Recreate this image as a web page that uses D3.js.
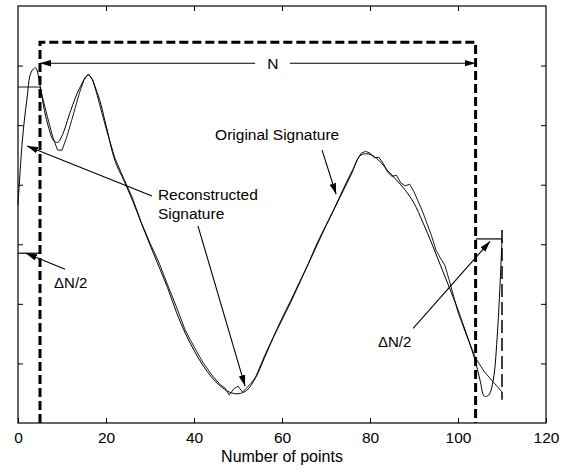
<!DOCTYPE html>
<html><head><meta charset="utf-8">
<script src="https://cdn.jsdelivr.net/npm/d3@7"></script>
<style>body{margin:0;background:#fff}svg{display:block}text{font-family:"Liberation Sans",Arial,sans-serif;fill:#000}</style>
</head><body><svg id="c" width="577" height="472"></svg>
<script>
// ---- data ----
const xTicks = [0,20,40,60,80,100,120];
const yTicks = [0,1,2,3,4,5,6,7];
const reconX = [0,1,2,3,4,5,6,7,8,9,10,12,14,16,18,20,22,24,26,28,30,32,34,36,38,40,42,44,46,48,50,52,54,56,58,60,62,64,66,68,70,72,74,76,78,80,82,84,86,88,90,92,94,96,98,100,101,102,103,104,105,106,107,108,109,110];
const reconY = [3.66,4.75,5.42,5.89,5.96,5.67,5.25,4.95,4.75,4.71,4.82,5.25,5.62,5.84,5.55,5.00,4.41,4.08,3.74,3.36,2.99,2.63,2.27,1.86,1.51,1.22,0.97,0.77,0.62,0.52,0.49,0.55,0.76,1.09,1.43,1.73,2.03,2.35,2.68,3.02,3.32,3.62,3.94,4.24,4.50,4.51,4.41,4.24,4.08,3.91,3.69,3.37,3.02,2.65,2.28,1.90,1.69,1.48,1.26,1.02,0.72,0.45,0.47,0.72,1.56,3.07];
const origX = [0,5,6,7,8,9,10,11,12,13,14,15,16,17,18,20,22,24,26,28,30,32,34,36,38,40,42,44,46,47,48,49,50,51,52,53,54,56,58,60,62,64,66,68,70,72,74,76,77,78,79,80,81,82,83,84,85,86,87,88,89,90,92,94,95,96,97,98,99,100,102,104,106,108,110];
const origY = [5.64,5.64,5.34,5.05,4.78,4.58,4.58,4.78,5.03,5.29,5.55,5.76,5.86,5.76,5.50,4.95,4.45,4.11,3.78,3.37,3.02,2.70,2.32,1.95,1.56,1.28,1.02,0.81,0.64,0.59,0.47,0.57,0.62,0.52,0.59,0.67,0.77,1.12,1.44,1.76,2.06,2.37,2.67,2.99,3.31,3.61,3.91,4.21,4.41,4.53,4.56,4.53,4.45,4.46,4.36,4.21,4.14,4.16,4.03,3.98,4.01,3.88,3.54,3.14,2.90,2.77,2.65,2.40,2.13,1.86,1.46,1.09,0.86,0.69,0.52];
const windowStart = 5, windowEnd = 104, windowTop = 6.39;
const xLabel = "Number of points";

// ---- drawing ----
const svg = d3.select("#c");
const x = d3.scaleLinear([0,120],[18,546]);
const y = d3.scaleLinear([0,7],[423,6]);

const defs = svg.append("defs");
defs.append("marker").attr("id","ah").attr("viewBox","0 0 10 6").attr("refX",10).attr("refY",3)
  .attr("markerWidth",11).attr("markerHeight",7).attr("markerUnits","userSpaceOnUse").attr("orient","auto")
  .append("path").attr("d","M0,0L10,3L0,6Z").attr("fill","#000");

// frame & ticks
svg.append("rect").attr("x",x(0)).attr("y",y(7)).attr("width",x(120)-x(0)).attr("height",y(0)-y(7))
  .attr("fill","none").attr("stroke","#000").attr("stroke-width",1.2);
const bx = d3.axisBottom(x).tickValues(xTicks).tickSizeInner(-5).tickSizeOuter(0).tickPadding(9);
const gx = svg.append("g").attr("transform",`translate(0,${y(0)})`).call(bx);
gx.select(".domain").remove();
gx.selectAll("text").attr("font-size",15.5).attr("font-family","Liberation Sans, Arial, sans-serif");
const tx = svg.append("g").attr("transform",`translate(0,${y(7)})`).call(d3.axisTop(x).tickValues(xTicks.slice(1,-1)).tickSizeInner(-5).tickSizeOuter(0).tickFormat(""));
tx.select(".domain").remove();
const ly = svg.append("g").attr("transform",`translate(${x(0)},0)`).call(d3.axisLeft(y).tickValues(yTicks.slice(1,-1)).tickSizeInner(-5).tickSizeOuter(0).tickFormat(""));
ly.select(".domain").remove();
const ry = svg.append("g").attr("transform",`translate(${x(120)},0)`).call(d3.axisRight(y).tickValues(yTicks.slice(1,-1)).tickSizeInner(-5).tickSizeOuter(0).tickFormat(""));
ry.select(".domain").remove();

svg.append("text").attr("x",(x(0)+x(120))/2).attr("y",462).attr("text-anchor","middle").attr("font-size",16).text(xLabel);

// curves
const line = d3.line().x(d=>x(d[0])).y(d=>y(d[1]));
svg.append("path").datum(reconX.map((v,i)=>[v,reconY[i]])).attr("d",line.curve(d3.curveCatmullRom))
  .attr("fill","none").attr("stroke","#000").attr("stroke-width",1.0);
svg.append("path").datum(origX.map((v,i)=>[v,origY[i]])).attr("d",d3.line().x(d=>x(d[0])).y(d=>y(d[1])))
  .attr("fill","none").attr("stroke","#000").attr("stroke-width",0.9);

// dashed window
svg.append("path").attr("d",line.curve(d3.curveLinear)([[windowStart,0],[windowStart,windowTop],[windowEnd,windowTop],[windowEnd,0]]))
  .attr("fill","none").attr("stroke","#000").attr("stroke-width",3).attr("stroke-dasharray","9,4");

function seg(x1,y1,x2,y2,arrow,w){
  const p = svg.append("line").attr("x1",x(x1)).attr("y1",y(y1)).attr("x2",x(x2)).attr("y2",y(y2))
    .attr("stroke","#000").attr("stroke-width",w||1.1);
  if(arrow) p.attr("marker-end","url(#ah)");
  return p;
}
// N arrow
seg(53.9,6.04,windowStart,6.04,true);
seg(61.8,6.04,windowEnd,6.04,true);
svg.append("text").attr("x",x(57.9)).attr("y",y(6.04)+6).attr("text-anchor","middle").attr("font-size",15.5).text("N");

// Original Signature
svg.append("text").attr("x",x(58.9)).attr("y",y(4.75)).attr("text-anchor","middle").attr("font-size",15.5).text("Original Signature");
seg(69.1,4.58,72.3,3.84,true);

// Reconstructed Signature
svg.append("text").attr("x",x(31.8)).attr("y",y(3.74)).attr("font-size",15.5).text("Reconstructed");
svg.append("text").attr("x",x(31.8)).attr("y",y(3.42)).attr("font-size",15.5).text("Signature");
seg(30.45,3.81,2.05,4.65,true);
seg(40.9,3.31,51.6,0.62,true);

// ΔN/2 left
svg.append("text").attr("x",x(8.2)).attr("y",y(2.27)).attr("font-size",15).text("ΔN/2");
seg(10.7,2.58,1.8,2.85,true);
seg(0,2.85,windowStart,2.85,false,1.2);

// ΔN/2 right
svg.append("text").attr("x",x(81.8)).attr("y",y(1.28)).attr("font-size",15).text("ΔN/2");
seg(89.8,1.59,107.3,3.05,true);
seg(windowEnd,3.09,110,3.09,false,1.2);
seg(110,3.24,110,0.39,false,1.5).attr("stroke-dasharray","13,5");
</script></body></html>
